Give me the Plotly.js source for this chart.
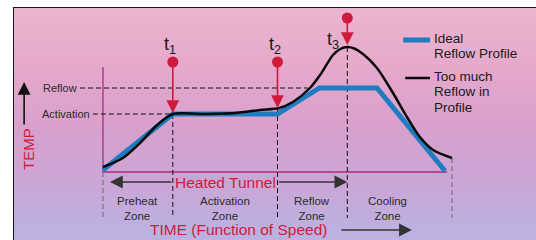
<!DOCTYPE html>
<html>
<head>
<meta charset="utf-8">
<script src="https://cdn.plot.ly/plotly-3.0.1.min.js"></script>
<style>
  html, body { margin:0; padding:0; background:#ffffff; width:536px; height:240px; overflow:hidden; }
  #bg { position:absolute; left:13px; top:7px; width:523px; height:233px; box-sizing:border-box;
        border-left:1.5px solid #1a1a1a; border-top:1.5px solid #1a1a1a;
        background: linear-gradient(to bottom, #ecb5cf 0%, #e3a7cb 30%, #d8a0cc 52%, #caa6d6 75%, #bab2e2 100%); }
  #chart { position:absolute; left:0; top:0; width:536px; height:240px; }
</style>
</head>
<body>
<div id="bg"></div>
<div id="chart"></div>
<script>
// ---- data (time in relative units, temperature in relative units) ----
const idealTime = [0, 20, 50, 62, 78.5, 98];
const idealTemp = [2, 58, 58, 84, 84, 1];

const excessTime = [0, 5.7, 10.6, 15.5, 20, 27.8, 37.8, 45, 50.5, 54.4, 59.3, 62.2, 65.9, 68, 70, 72, 74.5, 78.5, 83.1, 87.1, 90.8, 94.6, 100];
const excessTemp = [5, 14, 29, 47, 58, 58, 59, 62, 64, 70, 84, 97, 117, 123, 125, 123.5, 118, 104, 79, 55, 35, 22, 14];

const seriesNames = [['Ideal', 'Reflow Profile'], ['Too much', 'Reflow in', 'Profile']];

const markerLabels = ['t<sub>1</sub>', 't<sub>2</sub>', 't<sub>3</sub>'];
const markerTimes = [20, 50, 70];
const markerDotTemp = [110, 110, 154];
const markerTipTemp = [59, 64, 127];

const levelNames = ['Reflow', 'Activation'];
const levelTemps = [84, 58];

const zoneNames = ['Preheat<br>Zone', 'Activation<br>Zone', 'Reflow<br>Zone', 'Cooling<br>Zone'];
const zoneBounds = [0, 20, 50, 70, 100];
const zoneLabelTimes = [10, 35, 60, 81.5];

// ---- layout helpers ----
const PX_PER_T = 3.49;
const X0 = 103, Y0 = 172, W = 536, H = 240;
const xRange = [-X0 / PX_PER_T, (W - X0) / PX_PER_T];
const yRange = [Y0 - H, Y0];

const RED = '#d01a3c';
const PURPLE = '#a3307c';
const DARK = '#2a2a2a';
const BLUE = '#1f7cc0';
const BLACK = '#0a0a0a';
const FONT = 'Liberation Sans, Arial, sans-serif';

const traces = [
  { x: idealTime, y: idealTemp, mode: 'lines', name: seriesNames[0].join(' '),
    line: { color: BLUE, width: 5 } },
  { x: excessTime, y: excessTemp, mode: 'lines', name: seriesNames[1].join(' '),
    line: { color: BLACK, width: 2.5, shape: 'spline', smoothing: 0.8 } },
  { x: markerTimes, y: markerDotTemp, mode: 'markers', hoverinfo: 'skip',
    marker: { color: RED, size: 11 } }
];

const shapes = [];
const annotations = [];

function arrow(x0, y0, x1, y1, color) {
  annotations.push({ x: x1, y: y1, ax: x0, ay: y0, axref: 'x', ayref: 'y', xref: 'x', yref: 'y',
    text: '', showarrow: true, arrowhead: 2, arrowsize: 1.6, arrowwidth: 1.6, arrowcolor: color, standoff: 0 });
}

// purple axes
shapes.push({ type: 'line', xref: 'x', yref: 'y', x0: 0, x1: 0, y0: 0, y1: 105, line: { color: PURPLE, width: 1.3 }, layer: 'below' });
shapes.push({ type: 'line', xref: 'x', yref: 'y', x0: 0, x1: 98.6, y0: 0, y1: 0, line: { color: PURPLE, width: 1.3 }, layer: 'below' });

// level dashed lines and labels
const levelEnds = [58.7, 20];
const levelStarts = [-6.6, -2.9];
levelNames.forEach((n, i) => {
  shapes.push({ type: 'line', xref: 'x', yref: 'y', x0: levelStarts[i], x1: levelEnds[i], y0: levelTemps[i], y1: levelTemps[i],
    line: { color: '#111', width: 1, dash: '5px,3px' }, layer: 'below' });
  annotations.push({ x: levelStarts[i], y: levelTemps[i], xref: 'x', yref: 'y', text: n, showarrow: false,
    xanchor: 'right', yanchor: 'middle', xshift: -1, font: { family: FONT, size: 11, color: DARK } });
});

// zone dividers
const dividerTops = [0, 58, 64, 125, 14];
zoneBounds.forEach((b, i) => {
  const edge = (i === 0 || i === zoneBounds.length - 1);
  shapes.push({ type: 'line', xref: 'x', yref: 'y', x0: b, x1: b, y0: dividerTops[i], y1: -46,
    line: { color: edge ? '#6a6a6a' : '#111', width: 1, dash: '5px,3px' }, layer: 'below' });
});

// zone labels
zoneNames.forEach((n, i) => {
  annotations.push({ x: zoneLabelTimes[i], y: -36.5, xref: 'x', yref: 'y', text: n, showarrow: false,
    xanchor: 'center', yanchor: 'middle', font: { family: FONT, size: 11.5, color: DARK } });
});

// red markers: arrows + labels
const labelShift = [-3, -3, -14];
const labelY = [127, 127, 132];
markerTimes.forEach((t, i) => {
  arrow(t, markerDotTemp[i], t, markerTipTemp[i], RED);
  annotations.push({ x: t, y: labelY[i], xref: 'x', yref: 'y', text: markerLabels[i], showarrow: false,
    xshift: labelShift[i], xanchor: 'center', yanchor: 'middle', font: { family: FONT, size: 18, color: '#1a1a1a' } });
});

// custom legend
const legendColors = [BLUE, BLACK];
const legendWidths = [5, 2.5];
const legendSymbolX = [[86, 93.7], [86.6, 93.7]];
const legendTop = [134, 96];
const LINE_STEP = 15.5;
seriesNames.forEach((lines, i) => {
  shapes.push({ type: 'line', xref: 'x', yref: 'y', x0: legendSymbolX[i][0], x1: legendSymbolX[i][1],
    y0: legendTop[i] - 2, y1: legendTop[i] - 2, line: { color: legendColors[i], width: legendWidths[i] } });
  lines.forEach((txt, j) => {
    annotations.push({ x: 94.5, y: legendTop[i] - j * LINE_STEP, xref: 'x', yref: 'y', text: txt, showarrow: false,
      xanchor: 'left', yanchor: 'middle', borderpad: 0,
      font: { family: FONT, size: 13.5, color: '#1a1a1a' } });
  });
});

// Heated Tunnel
annotations.push({ x: 35, y: -10, xref: 'x', yref: 'y', text: 'Heated Tunnel', showarrow: false,
  xanchor: 'center', yanchor: 'middle', font: { family: FONT, size: 15.5, color: RED } });
arrow(20, -10, 2, -10, '#333');
arrow(50, -10, 70, -10, '#333');

// TIME axis label
annotations.push({ x: 38.7, y: -57, xref: 'x', yref: 'y', text: 'TIME (Function of Speed)', showarrow: false,
  xanchor: 'center', yanchor: 'middle', font: { family: FONT, size: 15.5, color: RED } });
arrow(67.9, -58, 88.5, -58, '#333');

// TEMP axis label
annotations.push({ x: -21.5, y: 23, xref: 'x', yref: 'y', text: 'TEMP', showarrow: false, textangle: -90,
  xanchor: 'center', yanchor: 'middle', font: { family: FONT, size: 15, color: RED } });
arrow(-22.6, 46, -22.6, 90, '#111');

const layout = {
  width: W, height: H,
  margin: { l: 0, r: 0, t: 0, b: 0, pad: 0 },
  paper_bgcolor: 'rgba(0,0,0,0)', plot_bgcolor: 'rgba(0,0,0,0)',
  xaxis: { range: xRange, visible: false, fixedrange: true },
  yaxis: { range: yRange, visible: false, fixedrange: true },
  showlegend: false,
  shapes: shapes,
  annotations: annotations,
  font: { family: FONT }
};

Plotly.newPlot('chart', traces, layout, { staticPlot: true, displayModeBar: false });
</script>
</body>
</html>
